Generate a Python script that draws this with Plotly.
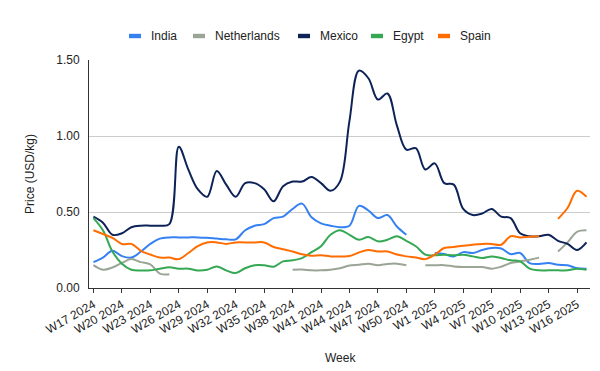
import plotly.graph_objects as go

weeks = [f"W{w} 2024" for w in range(17, 53)] + [f"W{w} 2025" for w in range(1, 18)]
tick_labels = weeks[::3]

india = [0.17, 0.20, 0.245, 0.21, 0.20, 0.24, 0.29, 0.325, 0.333, 0.333,
         0.333, 0.333, 0.33, 0.325, 0.32, 0.32, 0.38, 0.41, 0.42, 0.46,
         0.47, 0.52, 0.555, 0.465, 0.425, 0.41, 0.40, 0.41, 0.54, 0.51,
         0.46, 0.48, 0.405, 0.35, None, None, 0.23, 0.223, 0.208, 0.236,
         0.23, 0.25, 0.263, 0.26, 0.223, 0.23, 0.164, 0.158, 0.164, 0.153,
         0.15, 0.13, 0.127]

netherlands = [0.15, 0.12, 0.135, 0.165, 0.19, 0.17, 0.155, 0.095, 0.09, None,
               None, None, None, None, None, None, None, None, None, None,
               None, 0.12, 0.122, 0.116, 0.116, 0.12, 0.13, 0.148, 0.153, 0.16,
               0.15, 0.158, 0.16, 0.15, None, 0.15, 0.15, 0.15, 0.142, 0.138,
               0.138, 0.138, 0.127, 0.14, 0.164, 0.175, 0.186, 0.20, None, 0.24,
               0.30, 0.37, 0.38]

mexico = [0.47, 0.43, 0.35, 0.36, 0.40, 0.41, 0.41, 0.41, 0.42, 0.93,
          0.78, 0.65, 0.60, 0.77, 0.68, 0.60, 0.69, 0.69, 0.65, 0.57,
          0.67, 0.70, 0.70, 0.73, 0.69, 0.64, 0.70, 1.10, 1.43, 1.38,
          1.24, 1.28, 1.07, 0.91, 0.92, 0.78, 0.82, 0.69, 0.68, 0.52,
          0.48, 0.49, 0.52, 0.47, 0.46, 0.36, 0.34, 0.34, 0.35, 0.31,
          0.29, 0.25, 0.30]

egypt = [0.46, 0.38, 0.24, 0.16, 0.12, 0.115, 0.116, 0.127, 0.136, 0.127,
         0.127, 0.115, 0.12, 0.142, 0.116, 0.098, 0.13, 0.15, 0.15, 0.14,
         0.175, 0.182, 0.197, 0.236, 0.275, 0.35, 0.38, 0.35, 0.317, 0.335,
         0.307, 0.317, 0.34, 0.31, 0.275, 0.22, 0.215, 0.219, 0.215, 0.219,
         0.208, 0.197, 0.208, 0.197, 0.182, 0.175, 0.127, 0.116, 0.116, 0.116,
         0.116, 0.127, 0.12]

spain = [0.38, 0.355, 0.33, 0.29, 0.29, 0.245, 0.22, 0.20, 0.20, 0.19,
         0.23, 0.275, 0.30, 0.30, 0.29, 0.30, 0.30, 0.30, 0.30, 0.27,
         0.255, 0.24, 0.222, 0.212, 0.215, 0.208, 0.208, 0.21, 0.234, 0.25,
         0.24, 0.24, 0.22, 0.208, 0.20, 0.19, 0.22, 0.263, 0.27, 0.278,
         0.285, 0.29, 0.29, 0.285, 0.34, 0.333, 0.337, 0.34, None, 0.455,
         0.526, 0.64, 0.60]

series_names = ["India", "Netherlands", "Mexico", "Egypt", "Spain"]
series_values = [india, netherlands, mexico, egypt, spain]
series_colors = ["#3581F2", "#9AA596", "#0D2357", "#34A853", "#FF6D01"]

FONT = "Liberation Sans, Arial, sans-serif"
TXT = "#222222"

fig = go.Figure()
for name, vals, color in zip(series_names, series_values, series_colors):
    fig.add_trace(go.Scatter(
        x=weeks, y=vals, name=name, mode="lines",
        line=dict(color=color, width=2, shape="spline", smoothing=1),
        connectgaps=False, showlegend=False,
    ))

W, H = 600, 371
L, R, T, B = 81, 18, 52, 91
pw, ph = W - L - R, H - T - B


def px_x(px):
    return (px - L) / pw


def px_y(py):
    return (H - B - py) / ph


# compact legend at the top (short thick swatches + labels)
legend_sw_x = [121, 185, 290, 363, 430]
legend_y = 28
shapes = []
annotations = []
for name, color, sx in zip(series_names, series_colors, legend_sw_x):
    shapes.append(dict(type="rect", xref="paper", yref="paper",
                       x0=px_x(sx), x1=px_x(sx + 12),
                       y0=px_y(legend_y + 2.2), y1=px_y(legend_y - 2.2),
                       fillcolor=color, line=dict(width=0)))
    annotations.append(dict(text=name, xref="paper", yref="paper",
                            x=px_x(sx + 19.5), y=px_y(legend_y),
                            xanchor="left", yanchor="middle", showarrow=False,
                            font=dict(size=12, color=TXT)))

annotations += [
    dict(text="Price (USD/kg)", xref="paper", yref="paper",
         x=px_x(22), y=px_y(166), textangle=-90,
         showarrow=False, xanchor="center", yanchor="middle",
         font=dict(size=12, color=TXT)),
    dict(text="Week", xref="paper", yref="paper",
         x=px_x(332), y=px_y(350),
         showarrow=False, xanchor="center", yanchor="middle",
         font=dict(size=12, color=TXT)),
]

fig.update_layout(
    width=W, height=H,
    margin=dict(l=L, r=R, t=T, b=B, pad=0),
    paper_bgcolor="white", plot_bgcolor="white",
    font=dict(family=FONT, size=12, color=TXT),
    showlegend=False,
    xaxis=dict(
        type="category",
        range=[-0.47, 52.37],
        tickmode="array", tickvals=tick_labels, ticktext=tick_labels,
        tickangle=-30, ticks="outside", ticklen=4, tickcolor="#333333",
        showgrid=False, showline=True, linecolor="#333333", linewidth=1,
        tickfont=dict(size=12, color=TXT),
        zeroline=False,
    ),
    yaxis=dict(
        range=[0, 1.5], tickvals=[0, 0.5, 1.0, 1.5], tickformat=".2f",
        showgrid=True, gridcolor="#CCCCCC", gridwidth=1,
        showline=True, linecolor="#333333", linewidth=1,
        zeroline=False, ticks="", ticklabelstandoff=6,
        tickfont=dict(size=12, color=TXT),
    ),
    shapes=shapes,
    annotations=annotations,
)

fig.write_html("out.html")
